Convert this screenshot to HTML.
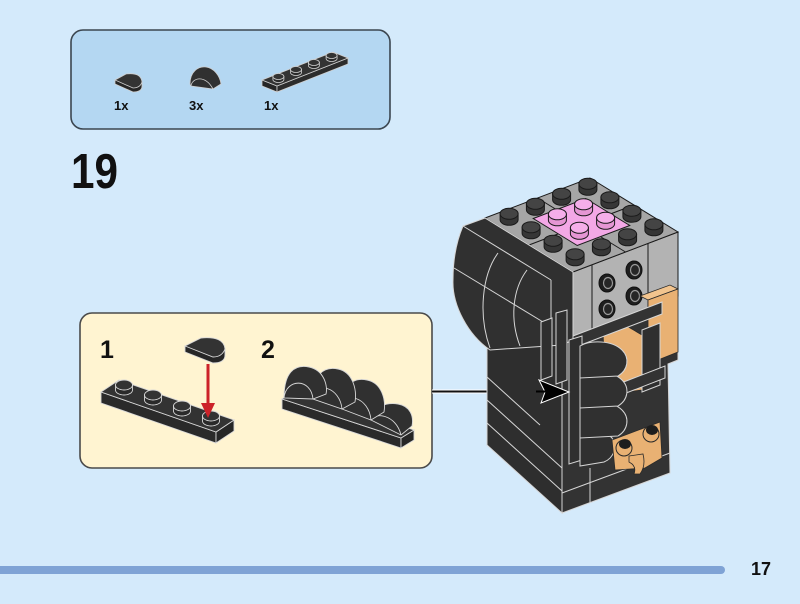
<!DOCTYPE html>
<html><head><meta charset="utf-8"><style>
html,body{margin:0;padding:0;background:#d4eafb;}
svg{display:block}
text{font-family:"Liberation Sans",sans-serif;font-weight:bold;fill:#111}
</style></head><body>
<svg width="800" height="604" viewBox="0 0 800 604" xmlns="http://www.w3.org/2000/svg">
<defs>
<g id="ms"><path d="M-9,-6 L-9,0 A9,5.5 0 0 0 9,0 L9,-6 Z" fill="#363636" stroke="#1a1a1a"/><ellipse cy="-6" rx="9" ry="5.5" fill="#444" stroke="#1a1a1a"/></g>
<g id="ps"><path d="M-9,-6 L-9,0 A9,5.5 0 0 0 9,0 L9,-6 Z" fill="#e596d4" stroke="#1a1a1a"/><ellipse cy="-6" rx="9" ry="5.5" fill="#f5aee9" stroke="#1a1a1a"/></g>
<g id="ds"><path d="M-8.5,-5 L-8.5,0 A8.5,5 0 0 0 8.5,0 L8.5,-5 Z" fill="#2a2a2a" stroke="#d8d8d8" stroke-width=".9"/><ellipse cy="-5" rx="8.5" ry="5" fill="#333" stroke="#d8d8d8" stroke-width=".9"/></g>
<g id="ts"><path d="M-5.5,-3 L-5.5,0 A5.5,3 0 0 0 5.5,0 L5.5,-3 Z" fill="#2a2a2a" stroke="#cfcfcf" stroke-width=".8"/><ellipse cy="-3" rx="5.5" ry="3" fill="#333" stroke="#cfcfcf" stroke-width=".8"/></g>
</defs>

<!-- parts box -->
<rect x="71" y="30" width="319" height="99" rx="12" fill="#b4d7f2" stroke="#3b4650" stroke-width="1.6"/>
<!-- part 1 tile -->
<path d="M115,80 L115,84 L133,92 Q142,92 142,86 L142,82 Z" fill="#262626" stroke="#cfcfcf" stroke-width=".8"/>
<path d="M115,80 L126,74 Q141,72 142,82 Q140,88 133,88 Z" fill="#333" stroke="#cfcfcf" stroke-width=".8"/>
<!-- part 2 slope -->
<path d="M190,84 C190,72 198,66 206,67 C214,68 220,76 221,84 L213,89 L191,86 Z" fill="#303030" stroke="#cfcfcf" stroke-width=".8"/>
<path d="M191,86 C192,78 205,74 213,89" fill="none" stroke="#cfcfcf" stroke-width=".8"/>
<!-- part 3 plate -->
<polygon points="262,80 277,86 277,92 262,86" fill="#262626" stroke="#cfcfcf" stroke-width=".8"/>
<polygon points="277,86 348,58 348,64 277,92" fill="#2c2c2c" stroke="#cfcfcf" stroke-width=".8"/>
<polygon points="262,80 333,52 348,58 277,86" fill="#333" stroke="#cfcfcf" stroke-width=".8"/>
<use href="#ts" x="278.4" y="79.5"/><use href="#ts" x="296" y="72.5"/><use href="#ts" x="313.9" y="65.5"/><use href="#ts" x="331.6" y="58.5"/>
<text x="114" y="110" font-size="13">1x</text>
<text x="189" y="110" font-size="13">3x</text>
<text x="264" y="110" font-size="13">1x</text>

<!-- step number -->
<text x="71" y="188" font-size="49" textLength="47" lengthAdjust="spacingAndGlyphs">19</text>

<!-- callout -->
<rect x="80" y="313" width="352" height="155" rx="12" fill="#fff4d1" stroke="#4a4a4a" stroke-width="1.6"/>
<text x="100" y="358" font-size="25">1</text>
<text x="261" y="358" font-size="25">2</text>
<!-- step1 plate -->
<polygon points="101,392 216,432 216,443 101,403" fill="#2a2a2a" stroke="#d8d8d8" stroke-width=".9"/>
<polygon points="216,432 234,420 234,431 216,443" fill="#262626" stroke="#d8d8d8" stroke-width=".9"/>
<polygon points="101,392 119,380 234,420 216,432" fill="#333" stroke="#d8d8d8" stroke-width=".9"/>
<use href="#ds" x="124" y="390"/><use href="#ds" x="153" y="400"/><use href="#ds" x="182" y="411"/><use href="#ds" x="211" y="421"/>
<!-- step1 tile -->
<path d="M185,346 L185,352 L213,363 Q225,363 225,355 L225,349 Z" fill="#262626" stroke="#d8d8d8" stroke-width=".9"/>
<path d="M185,346 L201,338 Q224,336 225,349 Q222,357 213,357 Z" fill="#333" stroke="#d8d8d8" stroke-width=".9"/>
<!-- red arrow -->
<line x1="208" y1="364" x2="208" y2="406" stroke="#cc2229" stroke-width="3"/>
<polygon points="201,403 215,403 208,418" fill="#cc2229"/>
<!-- step2 assembly -->
<polygon points="282,399 401,438 401,448 282,409" fill="#2a2a2a" stroke="#d8d8d8" stroke-width=".9"/>
<polygon points="401,438 414,430 414,440 401,448" fill="#262626" stroke="#d8d8d8" stroke-width=".9"/>
<polygon points="282,399 295,391 414,430 401,438" fill="#333" stroke="#d8d8d8" stroke-width=".9"/>
<path d="M371,420 C372,408 385,402 398,404 C410,406 414,416 412,426 L401,435 Z" fill="#303030" stroke="#d8d8d8" stroke-width=".9"/>
<path d="M371,420 C374,412 396,414 401,435" fill="none" stroke="#d8d8d8" stroke-width=".9"/>
<path d="M342,409 C342,386 352,377 367,380 C382,383 386,400 384,412 L371,420 Z" fill="#303030" stroke="#d8d8d8" stroke-width=".9"/>
<path d="M342,409 C344,390 369,397 371,420" fill="none" stroke="#d8d8d8" stroke-width=".9"/>
<path d="M313,399 C313,375 323,366 338,369 C353,372 357,390 355,402 L342,409 Z" fill="#303030" stroke="#d8d8d8" stroke-width=".9"/>
<path d="M313,399 C315,380 340,387 342,409" fill="none" stroke="#d8d8d8" stroke-width=".9"/>
<path d="M284,398 C284,373 294,364 309,367 C324,370 328,386 326,394 L313,399 Z" fill="#303030" stroke="#d8d8d8" stroke-width=".9"/>
<path d="M284,398 C286,378 311,378 313,399" fill="none" stroke="#d8d8d8" stroke-width=".9"/>

<!-- connector -->
<line x1="432" y1="391.5" x2="546" y2="391.5" stroke="#fff" stroke-width="4"/>
<line x1="432" y1="391.5" x2="546" y2="391.5" stroke="#111" stroke-width="2"/>

<!-- model: lower body -->
<polygon points="487,340 573,340 573,400 562,405 562,513 487,445" fill="#2e2e2e" stroke="#d6d6d6" stroke-width="1"/>
<polygon points="562,338 678,294 678,360 668,364 670,473 562,513" fill="#333" stroke="#d6d6d6" stroke-width="1"/>
<line x1="487" y1="423" x2="562" y2="491" stroke="#d6d6d6"/>
<line x1="487" y1="400" x2="562" y2="468" stroke="#d6d6d6"/>
<line x1="487" y1="377" x2="540" y2="425" stroke="#d6d6d6"/>
<line x1="562" y1="493" x2="670" y2="453" stroke="#d6d6d6"/>
<line x1="590" y1="468" x2="590" y2="503" stroke="#d6d6d6"/>

<!-- head gray -->
<polygon points="573,272 678,232 678,296 573,338" fill="#b3b3b3" stroke="#1a1a1a" stroke-width="1"/>
<line x1="592" y1="265" x2="592" y2="330" stroke="#1a1a1a"/>
<line x1="648" y1="243" x2="648" y2="308" stroke="#1a1a1a"/>
<polygon points="590,178 678,232 573,272 485,218" fill="#a6a6a6" stroke="#1a1a1a" stroke-width="1"/>
<line x1="537.5" y1="198" x2="625.5" y2="252" stroke="#1a1a1a"/>
<line x1="634" y1="205" x2="529" y2="245" stroke="#1a1a1a"/>
<polygon points="585.75,198.5 629.75,225.5 577.25,245.5 533.25,218.5" fill="#f3a8e6" stroke="#1a1a1a"/>
<!-- top studs -->
<use href="#ms" x="587.9" y="189.75"/>
<use href="#ms" x="561.6" y="199.75"/>
<use href="#ms" x="609.9" y="203.25"/>
<use href="#ms" x="535.4" y="209.75"/>
<use href="#ps" x="583.6" y="210.25"/>
<use href="#ms" x="631.9" y="216.75"/>
<use href="#ms" x="509.1" y="219.75"/>
<use href="#ps" x="557.4" y="220.25"/>
<use href="#ps" x="605.6" y="223.75"/>
<use href="#ms" x="653.9" y="230.25"/>
<use href="#ms" x="531.1" y="233.25"/>
<use href="#ps" x="579.4" y="233.75"/>
<use href="#ms" x="627.6" y="240.25"/>
<use href="#ms" x="553.1" y="246.75"/>
<use href="#ms" x="601.4" y="250.25"/>
<use href="#ms" x="575.1" y="260.25"/>
<!-- side studs -->
<g fill="#1e1e1e" stroke="#111">
<ellipse cx="607" cy="283" rx="8" ry="9"/><ellipse cx="634" cy="270" rx="8" ry="9"/>
<ellipse cx="607" cy="309" rx="8" ry="9"/><ellipse cx="634" cy="296" rx="8" ry="9"/>
</g>
<g fill="#262626" stroke="#9a9a9a" stroke-width="1.2">
<ellipse cx="608" cy="283" rx="4.5" ry="5.5"/><ellipse cx="635" cy="270" rx="4.5" ry="5.5"/>
<ellipse cx="608" cy="309" rx="4.5" ry="5.5"/><ellipse cx="635" cy="296" rx="4.5" ry="5.5"/>
</g>

<!-- hair -->
<path d="M463,226 L485,218 L573,272 L573,340 L562,345 L490,350 C468,335 452,305 453,280 C453,258 457,240 463,226 Z" fill="#303030" stroke="#d6d6d6" stroke-width="1"/>
<line x1="463" y1="226" x2="551" y2="280" stroke="#d6d6d6"/>
<line x1="551" y1="280" x2="551" y2="345" stroke="#d6d6d6"/>
<line x1="454" y1="268" x2="548" y2="325" stroke="#d6d6d6"/>
<path d="M498,253 C482,275 478,315 490,348" fill="none" stroke="#d6d6d6"/>
<path d="M527,270 C512,290 510,320 520,346" fill="none" stroke="#d6d6d6"/>

<!-- front assembly -->
<polygon points="640,296 670,285 678,289 648,300" fill="#f2c48e" stroke="#2a2a2a" stroke-width=".8"/>
<polygon points="648,300 678,289 678,352 648,364" fill="#e9b173" stroke="#2a2a2a" stroke-width=".8"/>
<polygon points="603,333 625,325 642,335 642,390 620,393 605,372" fill="#e9b173" stroke="#2a2a2a" stroke-width=".8"/>
<polygon points="573,336 662,302 662,314 573,348" fill="#333" stroke="#d6d6d6"/>
<polygon points="642,330 660,323 660,385 642,392" fill="#2f2f2f" stroke="#d6d6d6"/>
<polygon points="590,395 665,366 665,378 590,407" fill="#333" stroke="#d6d6d6"/>
<!-- thin plates -->
<polygon points="541,322 552,318 552,376 541,380" fill="#2f2f2f" stroke="#d6d6d6"/>
<polygon points="556,313 567,310 567,380 556,384" fill="#2f2f2f" stroke="#d6d6d6"/>
<polygon points="569,340 582,336 582,460 569,464" fill="#2f2f2f" stroke="#d6d6d6"/>
<!-- slopes -->
<path d="M580,436 C590,430 605,430 612,438 C618,446 614,458 604,462 L580,466 Z" fill="#303030" stroke="#d6d6d6"/>
<path d="M580,406 C590,400 612,400 622,410 C630,418 628,430 618,436 L580,438 Z" fill="#303030" stroke="#d6d6d6"/>
<path d="M580,376 C590,370 612,370 622,380 C630,388 628,400 618,406 L580,408 Z" fill="#303030" stroke="#d6d6d6"/>
<path d="M580,346 C590,340 612,340 622,350 C630,358 628,370 618,376 L580,378 Z" fill="#303030" stroke="#d6d6d6"/>
<!-- tan bottom -->
<polygon points="612,440 660,422 662,458 645,468 615,470" fill="#e9b173" stroke="#2a2a2a" stroke-width=".8"/>
<ellipse cx="624" cy="448" rx="8" ry="8" fill="#e9b173" stroke="#2a2a2a"/>
<ellipse cx="625" cy="444" rx="6" ry="5" fill="#1e1e1e"/>
<ellipse cx="651" cy="434" rx="8" ry="8" fill="#e9b173" stroke="#2a2a2a"/>
<ellipse cx="652" cy="430" rx="6" ry="5" fill="#1e1e1e"/>
<path d="M629,456 L643,454 Q646,466 640,474 L634,474 Q637,466 629,462 Z" fill="#e9b173" stroke="#2a2a2a" stroke-width=".8"/>

<!-- arrowhead -->
<path d="M539,380 L569,392 L541,403 L545,392 Z" fill="#000000" stroke="#ffffff" stroke-width="1"/>
<line x1="536" y1="391.5" x2="547" y2="391.5" stroke="#000" stroke-width="2"/>

<!-- bottom bar -->
<path d="M0,566 L721,566 A4,4 0 0 1 721,574 L0,574 Z" fill="#7fa3d5"/>
<text x="751" y="575" font-size="18">17</text>
</svg>
</body></html>
